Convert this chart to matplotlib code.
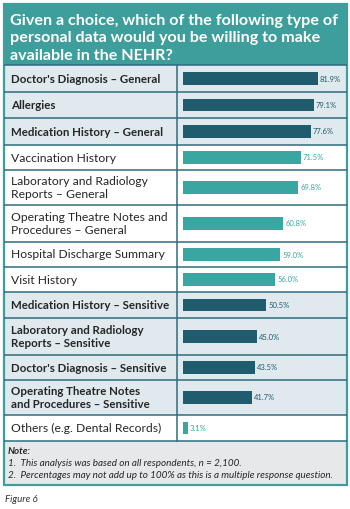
import matplotlib
matplotlib.use("Agg")
import matplotlib.pyplot as plt
from matplotlib.patches import Rectangle

plt.rcParams["font.family"] = ["Lato", "DejaVu Sans"]

# data
categories = [
    "Doctor's Diagnosis \u2013 General",
    "Allergies",
    "Medication History \u2013 General",
    "Vaccination History",
    "Laboratory and Radiology\nReports \u2013 General",
    "Operating Theatre Notes and\nProcedures \u2013 General",
    "Hospital Discharge Summary",
    "Visit History",
    "Medication History \u2013 Sensitive",
    "Laboratory and Radiology\nReports \u2013 Sensitive",
    "Doctor's Diagnosis \u2013 Sensitive",
    "Operating Theatre Notes\nand Procedures \u2013 Sensitive",
    "Others (e.g. Dental Records)",
]
values = [81.9, 79.1, 77.6, 71.5, 69.8, 60.8, 59.0, 56.0, 50.5, 45.0, 43.5, 41.7, 3.1]
highlight = [True, True, True, False, False, False, False, False, True, True, True, True, False]

title_lines = ["Given a choice, which of the following type of",
               "personal data would you be willing to make",
               "available in the NEHR?"]
notes = ["1.  This analysis was based on all respondents, n = 2,100.",
         "2.  Percentages may not add up to 100% as this is a multiple response question."]

# layout (pixels)
W, H = 350, 509
row_edges = [65, 92, 118, 145, 170, 205, 242, 267, 292, 318, 355, 380, 415, 441]
left, right, top, bottom = 4, 347, 4, 485
split = 177
bar_x0 = 183
px_per_pct = 1.65

teal = "#3d9e9b"
line_c = "#2f6c80"
dark_bar = "#1f5c6e"
light_bar = "#3aa6a1"
hl_bg = "#dfe9ee"
note_bg = "#e6e8ea"

fig = plt.figure(figsize=(W / 100, H / 100), dpi=100)
fig.patch.set_facecolor("white")
ax = fig.add_axes([0, 0, 1, 1])
ax.set_xlim(0, W)
ax.set_ylim(H, 0)
ax.axis("off")

# title box
ax.add_patch(Rectangle((left, top), right - left, row_edges[0] - top, facecolor=teal, edgecolor="none"))
for k, line in enumerate(title_lines):
    ax.text(10, 24.5 + k * 17.6, line, color="white", fontsize=11.6, fontweight="bold",
            va="baseline", ha="left")

# row backgrounds + labels
for i, cat in enumerate(categories):
    y0, y1 = row_edges[i], row_edges[i + 1]
    bg = hl_bg if highlight[i] else "white"
    ax.add_patch(Rectangle((left, y0), right - left, y1 - y0, facecolor=bg, edgecolor="none"))
    ax.text(11, (y0 + y1) / 2 + 0.5, cat, fontsize=8.3 if highlight[i] else 8.75, color="#262626",
            fontweight="bold" if highlight[i] else "normal",
            va="center", ha="left", linespacing=1.12)

# note box
ax.add_patch(Rectangle((left, row_edges[-1]), right - left, bottom - row_edges[-1], facecolor=note_bg, edgecolor="none"))
ax.text(8, 451, "Note:", fontsize=7, fontweight="bold", style="italic", color="#262626", va="center")
ax.text(8, 463, notes[0], fontsize=7.1, style="italic", color="#262626", va="center")
ax.text(8, 475.5, notes[1], fontsize=7.1, style="italic", color="#262626", va="center")

# grid lines
for y in row_edges:
    ax.plot([left, right], [y, y], color=line_c, lw=1.1, solid_capstyle="butt")
ax.plot([split, split], [row_edges[0], row_edges[-1]], color=line_c, lw=1.1)
ax.add_patch(Rectangle((left, top), right - left, bottom - top, facecolor="none", edgecolor=teal, lw=1.6))

# bars on their own axes
bx = fig.add_axes([bar_x0 / W, 0, 100 * px_per_pct / W, 1])
bx.set_xlim(0, 100)
bx.set_ylim(H, 0)
bx.axis("off")
centers = [(row_edges[i] + row_edges[i + 1]) / 2 for i in range(len(values))]
colors = [dark_bar if h else light_bar for h in highlight]
bx.barh(centers, values, height=12.5, color=colors, edgecolor="none")
for c, v, col in zip(centers, values, colors):
    bx.text(v + 1.2, c + 0.5, f"{v:.1f}%", fontsize=5.5, color=col, va="center", ha="left")

fig.text(5 / W, 1 - 500 / H, "Figure 6", fontsize=7, style="italic", color="#333333", va="center")

fig.savefig("out.png", dpi=100)
